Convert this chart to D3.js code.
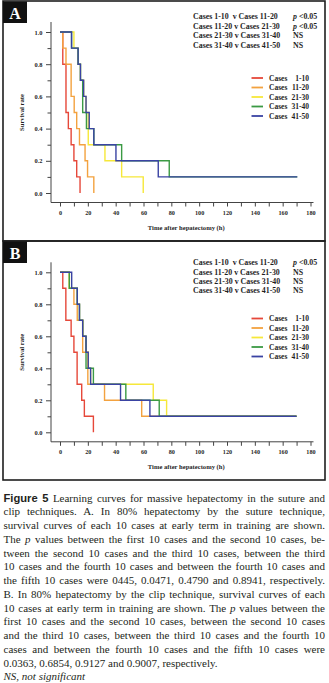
<!DOCTYPE html>
<html>
<head>
<meta charset="utf-8">
<script src="https://cdn.jsdelivr.net/npm/d3@7"></script>
<style>
  html, body { margin: 0; padding: 0; background: #fff; }
  svg { display: block; }
  text { white-space: pre; }
</style>
</head>
<body>
<svg id="fig" width="329" height="683"></svg>
<script>
// ---- data -------------------------------------------------------------
const groupLabels = ["1-10", "11-20", "21-30", "31-40", "41-50"];
const groupColors = ["#e6483a", "#f3a23f", "#f6e83a", "#3b9a44", "#3a43a3"];
const timeTicks = d3.range(0, 181, 10);      // every 10 h, labelled every 20 h
const rateTicks = d3.range(0, 1.001, 0.1);   // every 0.1, labelled every 0.2

// Panel A: suture technique (Kaplan-Meier steps: time h, survival after event)
const sutureT1 = [0, 2, 4.3, 6, 8, 10, 12, 14.4];
const sutureS1 = [1, 0.8, 0.5, 0.4, 0.3, 0.2, 0.1, 0];
const sutureT2 = [0, 2, 4.3, 8, 10.2, 12, 14, 18, 19.8, 24.3];
const sutureS2 = [1, 0.9, 0.8, 0.6, 0.5, 0.4, 0.3, 0.2, 0.1, 0];
const sutureT3 = [0, 10, 13, 14.7, 17, 18.7, 20.3, 32.3, 44.3, 59.8];
const sutureS3 = [1, 0.9, 0.8, 0.7, 0.6, 0.5, 0.3, 0.2, 0.1, 0];
const sutureT4 = [0, 8.3, 13, 14.7, 16.3, 19, 24.3, 44.3, 78.5, 170.5];
const sutureS4 = [1, 0.9, 0.8, 0.7, 0.5, 0.4, 0.3, 0.2, 0.1, 0.1];
const sutureT5 = [0, 8.3, 13, 14.7, 17, 18.7, 21, 24.3, 40.2, 70.6, 170.5];
const sutureS5 = [1, 0.9, 0.8, 0.7, 0.6, 0.5, 0.4, 0.3, 0.2, 0.1, 0.1];
const sutureCompare = ["Cases 1-10  v Cases 11-20", "Cases 11-20 v Cases 21-30",
                       "Cases 21-30 v Cases 31-40", "Cases 31-40 v Cases 41-50"];
const sutureResult = ["<0.05", "<0.05", "NS", "NS"];

// Panel B: clip technique
const clipT1 = [0, 2, 4.2, 8, 10, 12.3, 15.6, 17.5, 24];
const clipS1 = [1, 0.9, 0.7, 0.6, 0.5, 0.3, 0.2, 0.1, 0];
const clipT2 = [0, 6.7, 10, 12.4, 16.3, 20, 32, 58.7, 170];
const clipS2 = [1, 0.9, 0.8, 0.7, 0.5, 0.3, 0.2, 0.1, 0.1];
const clipT3 = [0, 6.7, 12.4, 14, 16.3, 18.7, 20.3, 22, 67, 76.6, 170];
const clipS3 = [1, 0.9, 0.8, 0.7, 0.6, 0.5, 0.4, 0.3, 0.2, 0.1, 0.1];
const clipT4 = [0, 6.7, 12.4, 14, 16.3, 18.7, 24, 47.3, 71.3, 170];
const clipS4 = [1, 0.9, 0.8, 0.7, 0.6, 0.4, 0.3, 0.2, 0.1, 0.1];
const clipT5 = [0, 8.4, 12.4, 14, 16.3, 18.7, 20.3, 22, 43.5, 64.6, 170];
const clipS5 = [1, 0.9, 0.8, 0.7, 0.6, 0.5, 0.4, 0.3, 0.2, 0.1, 0.1];
const clipCompare = sutureCompare;
const clipResult = ["<0.05", "NS", "NS", "NS"];

// ---- drawing ----------------------------------------------------------
const svg = d3.select("#fig");
const serif = "'Liberation Serif', 'Times New Roman', serif";
const ink = "#1f1f1f";

const zip = (t, s) => t.map((v, i) => [v, s[i]]);

function drawPanel(p) {
  const g = svg.append("g");

  // frame and panel tag
  g.append("rect")
    .attr("x", 3).attr("y", p.frameTop).attr("width", 322).attr("height", p.frameH)
    .attr("fill", "none").attr("stroke", ink).attr("stroke-width", 1.6);
  g.append("rect")
    .attr("x", 3).attr("y", p.frameTop + 0.5).attr("width", 24).attr("height", 21.5)
    .attr("fill", "#111");
  g.append("text")
    .attr("x", 15).attr("y", p.frameTop + 17.5).attr("text-anchor", "middle")
    .attr("fill", "#fff").style("font", `bold 16px ${serif}`).text(p.letter);

  const x = d3.scaleLinear().domain([0, 180]).range([60, 310.5]);
  const y = d3.scaleLinear().domain([0, 1]).range([p.zeroY, p.oneY]);
  const axisX = 51;
  const axisY = p.zeroY + 9.5;

  // axis lines
  g.append("path")
    .attr("d", `M${axisX},${p.oneY - 10}V${axisY}H${x(180) + 3}`)
    .attr("fill", "none").attr("stroke", "#444").attr("stroke-width", 1);

  // y axis ticks
  const yAx = g.append("g").attr("transform", `translate(${axisX},0)`)
    .call(d3.axisLeft(y).tickValues(rateTicks).tickSize(5).tickPadding(3.5)
      .tickFormat((d, i) => i % 2 === 0 ? d3.format(".1f")(d) : ""));
  yAx.select(".domain").remove();
  yAx.selectAll(".tick line").attr("stroke", "#444")
    .attr("x2", (d, i) => i % 2 === 0 ? -5 : -3.5);
  yAx.selectAll(".tick text").attr("fill", ink)
    .style("font", `bold 6.4px ${serif}`);

  // x axis ticks
  const xAx = g.append("g").attr("transform", `translate(0,${axisY})`)
    .call(d3.axisBottom(x).tickValues(timeTicks).tickSize(4).tickPadding(3.6)
      .tickFormat(d => d % 20 === 0 ? d : ""));
  xAx.select(".domain").remove();
  xAx.selectAll(".tick line").attr("stroke", "#444");
  xAx.selectAll(".tick text").attr("fill", ink)
    .style("font", `bold 6.2px ${serif}`);

  // axis titles
  g.append("text")
    .attr("x", (x(0) + x(180)) / 2 + 1).attr("y", axisY + 27)
    .attr("text-anchor", "middle").attr("fill", ink)
    .style("font", `bold 6.6px ${serif}`).text("Time after hepatectomy (h)");
  g.append("text")
    .attr("transform", `translate(24,${(p.zeroY + p.oneY) / 2}) rotate(-90)`)
    .attr("text-anchor", "middle").attr("fill", ink)
    .style("font", `bold 6.6px ${serif}`).text("Survival rate");

  // survival curves
  const line = d3.line().x(d => x(d[0])).y(d => y(d[1])).curve(d3.curveStepAfter);
  g.append("g").selectAll("path").data(p.curves).join("path")
    .attr("d", d => line(d))
    .attr("fill", "none")
    .attr("stroke", (d, i) => groupColors[i])
    .attr("stroke-width", 1.4);

  // comparison table
  const tbl = g.append("g").style("font", `bold 7.9px ${serif}`).attr("fill", ink);
  p.compare.forEach((c, i) => {
    const by = p.tableY + i * 9.4;
    tbl.append("text").attr("x", 193).attr("y", by).text(c);
    const r = p.result[i];
    const t = tbl.append("text").attr("x", 293).attr("y", by);
    if (r === "NS") t.text("NS");
    else {
      t.append("tspan").style("font-style", "italic").text("p");
      t.append("tspan").text(" " + r);
    }
  });

  // legend
  const lg = g.append("g").style("font", `bold 7.5px ${serif}`).attr("fill", ink);
  groupLabels.forEach((lab, i) => {
    const ly = p.legendY + i * 9.5;
    lg.append("line").attr("x1", 251.5).attr("x2", 263).attr("y1", ly).attr("y2", ly)
      .attr("stroke", groupColors[i]).attr("stroke-width", 1.8);
    lg.append("text").attr("x", 269).attr("y", ly + 2.7).text("Cases");
    lg.append("text").attr("x", 309).attr("y", ly + 2.7).attr("text-anchor", "end").text(lab);
  });
}

drawPanel({
  letter: "A", frameTop: 1, frameH: 240, oneY: 32, zeroY: 193,
  tableY: 19.3, legendY: 78,
  compare: sutureCompare, result: sutureResult,
  curves: [zip(sutureT1, sutureS1), zip(sutureT2, sutureS2), zip(sutureT3, sutureS3),
           zip(sutureT4, sutureS4), zip(sutureT5, sutureS5)]
});
drawPanel({
  letter: "B", frameTop: 241, frameH: 239, oneY: 272.3, zeroY: 432.3,
  tableY: 265.2, legendY: 318.5,
  compare: clipCompare, result: clipResult,
  curves: [zip(clipT1, clipS1), zip(clipT2, clipS2), zip(clipT3, clipS3),
           zip(clipT4, clipS4), zip(clipT5, clipS5)]
});

// ---- caption -----------------------------------------------------------
const captionLines = [
  [["Figure 5", "b"], [" Learning curves for massive hepatectomy in the suture and", "n"]],
  [["clip techniques. A. In 80% hepatectomy by the suture technique,", "n"]],
  [["survival curves of each 10 cases at early term in training are shown.", "n"]],
  [["The ", "n"], ["p", "i"], [" values between the first 10 cases and the second 10 cases, be-", "n"]],
  [["tween the second 10 cases and the third 10 cases, between the third", "n"]],
  [["10 cases and the fourth 10 cases and between the fourth 10 cases and", "n"]],
  [["the fifth 10 cases were 0445, 0.0471, 0.4790 and 0.8941, respectively.", "n"]],
  [["B. In 80% hepatectomy by the clip technique, survival curves of each", "n"]],
  [["10 cases at early term in training are shown. The ", "n"], ["p", "i"], [" values between the", "n"]],
  [["first 10 cases and the second 10 cases, between the second 10 cases", "n"]],
  [["and the third 10 cases, between the third 10 cases and the fourth 10", "n"]],
  [["cases and between the fourth 10 cases and the fifth 10 cases were", "n"]],
  [["0.0363, 0.6854, 0.9127 and 0.9007, respectively.", "n"]],
  [["NS, not significant", "i"]]
];
const capLeft = 3.5, capWidth = 321.5, capTop = 501.7, capStep = 13.75;
const cap = svg.append("g").attr("fill", "#231f20");
captionLines.forEach((segs, i) => {
  const t = cap.append("text").attr("x", capLeft).attr("y", capTop + i * capStep)
    .style("font", `11px ${serif}`);
  segs.forEach(([s, kind]) => {
    const ts = t.append("tspan").text(s);
    if (kind === "i") ts.style("font-style", "italic");
    if (kind === "b") ts.style("font", "bold 11.2px 'Liberation Sans', Arial, sans-serif");
  });
  if (i < 12) {
    const w = t.node().getComputedTextLength();
    const spaces = segs.map(d => d[0]).join("").split(" ").length - 1;
    if (w < capWidth) t.attr("word-spacing", (capWidth - w) / spaces);
    else t.attr("textLength", capWidth).attr("lengthAdjust", "spacingAndGlyphs");
  }
});
</script>
</body>
</html>
